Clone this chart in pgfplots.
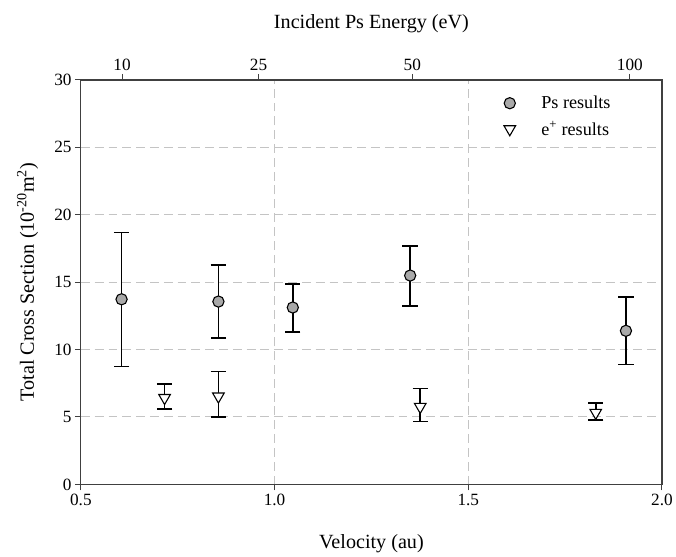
\documentclass[border=0pt]{standalone}
\usepackage{fontspec}
\setmainfont{Liberation Serif}
\usepackage{pgfplots}
\usepackage{pgfplotstable}
\pgfplotsset{compat=1.18}
\definecolor{gridgray}{HTML}{C4C4C4}
\definecolor{markgray}{HTML}{A9A9A9}
\definecolor{axisgray}{HTML}{404040}

\pgfplotstableread{
x     y      ep    em
0.605 13.73  4.95  5.00
0.855 13.56  2.70  2.71
1.047 13.12  1.73  1.80
1.350 15.49  2.21  2.25
1.907 11.39  2.53  2.49
}\psdata

\pgfplotstableread{
x     y     ep    em
0.716 6.42  1.04  0.84
0.855 6.53  1.83  1.53
1.376 5.76  1.34  1.08
1.829 5.32  0.73  0.54
}\epdata

\begin{document}
\begin{tikzpicture}
\begin{axis}[
  scale only axis,
  width=589bp, height=410bp,
  xmin=0.5, xmax=2.0, ymin=0, ymax=30,
  xtick={0.5,1.0,1.5,2.0},
  xticklabels={0.5,1.0,1.5,2.0},
  ytick={0,5,10,15,20,25,30},
  yticklabels={0,5,10,15,20,25,30},
  xtick pos=bottom, ytick pos=left,
  tick align=outside,
  major tick length=6bp,
  every tick/.style={axisgray, line width=1bp},
  axis line style={axisgray, line width=1.2bp},
  grid=major,
  major grid style={gridgray, line width=1bp, dash pattern=on 9bp off 5bp},
  ticklabel style={font=\fontsize{17.5}{20}\selectfont},
  xlabel={Velocity (au)},
  ylabel={Total Cross Section (10\textsuperscript{-20}m\textsuperscript{2})},
  label style={font=\fontsize{20.5}{24}\selectfont},
  xlabel style={at={(axis description cs:0.5,-0.1585)}, anchor=base},
  ylabel style={at={(axis description cs:-0.0917,0.5)}, anchor=center},
  legend image code/.code={\path (0cm,0cm) (1.4cm,0cm); \draw[#1] plot coordinates {(0.35cm,0cm)};},
  legend style={draw=none, fill=none, at={(axis description cs:0.7155,0.970)}, anchor=north west,
    font=\fontsize{18.5}{21}\selectfont, row sep=7.6bp},
  legend cell align=left,
]
\addplot[only marks, mark=*, mark size=5.7bp, mark options={fill=markgray, draw=black, line width=1.1bp},
  error bars/.cd, y dir=both, y explicit,
  error bar style={black, line width=1.6bp},
  error mark options={rotate=90, mark size=7.8bp, line width=1.6bp, black}]
  table[x=x, y=y, y error plus=ep, y error minus=em] {\psdata};
\addlegendentry{Ps results}
\addplot[only marks, mark=triangle*, mark size=6.8bp, mark options={rotate=180, fill=white, draw=black, line width=1.1bp},
  error bars/.cd, y dir=both, y explicit,
  error bar style={black, line width=1.6bp},
  error mark options={rotate=90, mark size=7.8bp, line width=1.6bp, black}]
  table[x=x, y=y, y error plus=ep, y error minus=em] {\epdata};
\addlegendentry{e\textsuperscript{+} results}
\end{axis}
\begin{axis}[
  scale only axis,
  width=589bp, height=410bp,
  xmin=0.5, xmax=2.0, ymin=0, ymax=30,
  axis x line*=top,
  hide y axis,
  xtick={0.60622,0.95852,1.35555,1.91703},
  xticklabels={10,25,50,100},
  tick align=outside,
  major tick length=6bp,
  every tick/.style={axisgray, line width=1bp},
  axis line style={axisgray, line width=1.2bp},
  ticklabel style={font=\fontsize{17.5}{20}\selectfont},
  xlabel={Incident Ps Energy (eV)},
  label style={font=\fontsize{20.5}{24}\selectfont},
  xlabel style={at={(axis description cs:0.5,1.126)}, anchor=base},
]
\addplot[draw=none, forget plot] coordinates {(0.5,0) (2.0,30)};
\end{axis}
\path (-82bp,-70bp) rectangle (594bp,491bp);
\end{tikzpicture}
\end{document}
